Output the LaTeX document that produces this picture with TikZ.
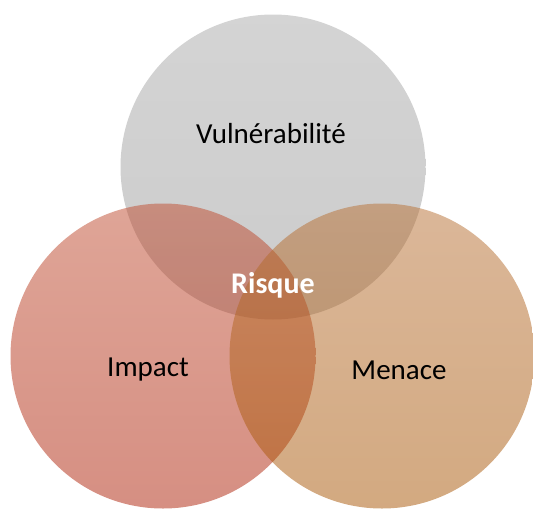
\documentclass[tikz,border=0pt]{standalone}
\usepackage{fontspec}
\setmainfont{Carlito}
\definecolor{grayTop}{HTML}{A9A9A9}
\definecolor{grayBot}{HTML}{999999}
\definecolor{redTop}{HTML}{BF4B2F}
\definecolor{redBot}{HTML}{AD1F06}
\definecolor{orTop}{HTML}{B76F33}
\definecolor{orBot}{HTML}{A75402}
\tikzset{
    venn/.style={circle, minimum size=305pt, inner sep=0pt, fill opacity=0.5, draw=none},
    lbl/.style={font=\fontsize{29}{34}\selectfont, text=black},
}
\begin{document}
\begin{tikzpicture}[x=1pt,y=-1pt]
    \useasboundingbox (0,0) rectangle (533,509);
    % circles
    \node[venn, top color=grayTop, bottom color=grayBot] (vul) at (273,167) {};
    \node[venn, top color=redTop, bottom color=redBot] (imp) at (163,356) {};
    \node[venn, top color=orTop, bottom color=orBot] (men) at (382,356) {};

    % labels
    \node[lbl] (vultext) at (271,134) {Vulnérabilité};
    \node[lbl] (imptext) at (148,370) {Impact};
    \node[lbl] (mentext) at (399,370) {Menace};
    \node[lbl, text=white, font=\fontsize{30}{34}\selectfont\bfseries] (risque) at (273,285) {Risque};
\end{tikzpicture}
\end{document}
